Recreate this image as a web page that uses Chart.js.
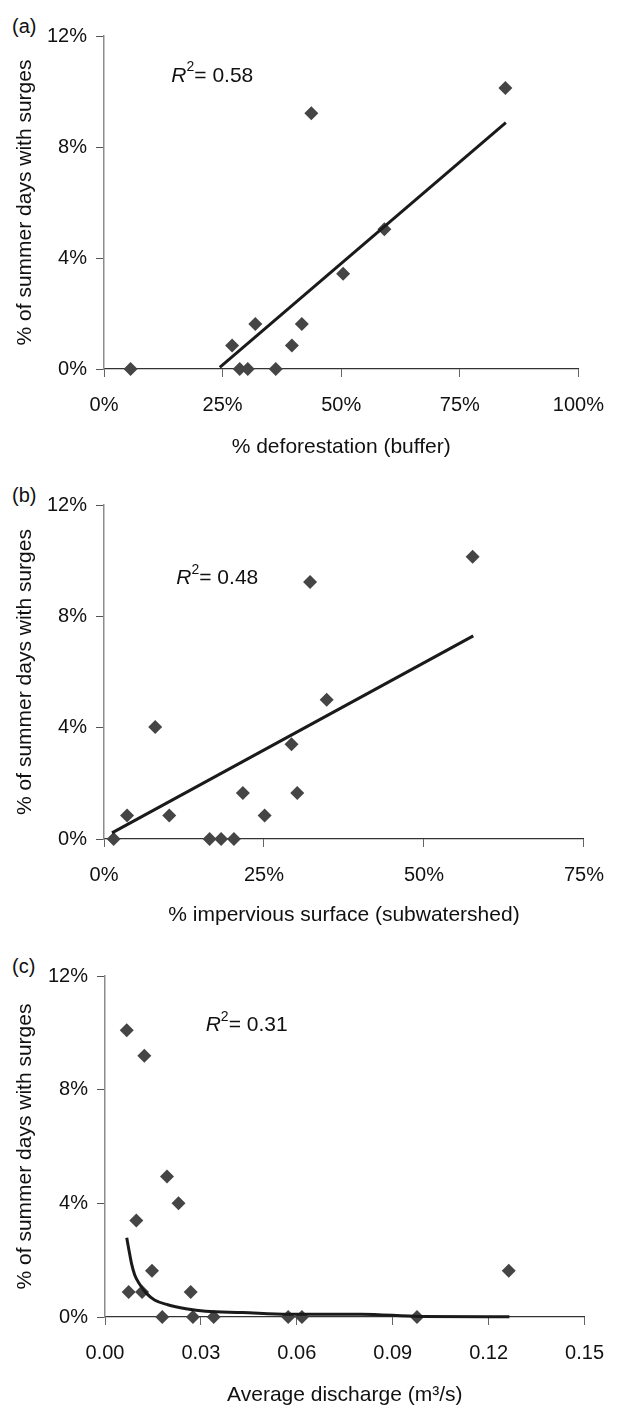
<!DOCTYPE html>
<html>
<head>
<meta charset="utf-8">
<script src="https://cdn.jsdelivr.net/npm/chart.js@4.4.1/dist/chart.umd.min.js"></script>
<style>
    body { margin: 0; background: #fff; }
    #wrap { position: relative; width: 620px; height: 1410px; }
    #wrap canvas { position: absolute; left: 0; display: block; }
    .panel-tag { position: absolute; left: 12px; font: 20px/24px "Liberation Sans", Arial, sans-serif; color: #111; }
</style>
</head>
<body>
<div id="wrap">
    <div class="panel-tag" style="top:14px">(a)</div>
    <div class="panel-tag" style="top:483px">(b)</div>
    <div class="panel-tag" style="top:954px">(c)</div>
    <canvas id="chartA" width="620" height="470" style="top:0"></canvas>
    <canvas id="chartB" width="620" height="470" style="top:470px"></canvas>
    <canvas id="chartC" width="620" height="470" style="top:940px"></canvas>
</div>
<script>
// Shared y axis (% of summer days with surges)
var yTicks = [0, 4, 8, 12];

// (a) deforestation in buffer
var aX = [5.6, 27.0, 28.6, 30.3, 31.9, 36.2, 39.6, 41.7, 43.7, 50.4, 59.1, 84.6];
var aY = [0, 0.85, 0, 0, 1.62, 0, 0.85, 1.62, 9.22, 3.43, 5.04, 10.13];
var aTrendX = [24.4, 84.7];
var aTrendY = [0.06, 8.88];
var aTicks = [0, 25, 50, 75, 100];

// (b) impervious surface in subwatershed
var bX = [1.5, 3.6, 8.0, 10.2, 16.5, 18.3, 20.3, 21.7, 25.1, 29.3, 30.2, 32.2, 34.8, 57.6];
var bY = [0, 0.84, 4.02, 0.84, 0, 0, 0, 1.65, 0.84, 3.40, 1.65, 9.23, 5.0, 10.14];
var bTrendX = [1.25, 57.7];
var bTrendY = [0.22, 7.30];
var bTicks = [0, 25, 50, 75];

// (c) average discharge
var cX = [0.0068, 0.0123, 0.0194, 0.0230, 0.0098, 0.0147, 0.0074, 0.0116, 0.0268, 0.0179, 0.0275, 0.0340, 0.0573, 0.0616, 0.0976, 0.1263];
var cY = [10.09, 9.19, 4.94, 4.0, 3.40, 1.63, 0.88, 0.88, 0.88, 0, 0, 0, 0, 0, 0, 1.63];
var cCurveX = [0.0068, 0.0075, 0.0083, 0.0093, 0.0108, 0.0129, 0.0155, 0.0196, 0.0253, 0.0315, 0.0429, 0.0573, 0.0801, 0.0987, 0.1265];
var cCurveY = [2.79, 2.35, 1.88, 1.48, 1.16, 0.84, 0.60, 0.43, 0.29, 0.20, 0.16, 0.10, 0.10, 0.02, 0.01];
var cTicks = [0, 0.03, 0.06, 0.09, 0.12, 0.15];

var FONT = '"Liberation Sans", Arial, sans-serif';
Chart.defaults.font.family = FONT;
Chart.defaults.color = '#111';

function toPoints(xs, ys) {
    return xs.map(function(x, i) { return { x: x, y: ys[i] }; });
}

// Draws the "R² = ..." note at a data position
var r2Label = {
    id: 'r2Label',
    afterDraw: function(chart, args, opts) {
        var ctx = chart.ctx;
        var x = chart.scales.x.getPixelForValue(opts.x);
        var base = chart.scales.y.getPixelForValue(opts.y) + 7;
        ctx.save();
        ctx.fillStyle = '#111';
        ctx.textBaseline = 'alphabetic';
        ctx.textAlign = 'left';
        ctx.font = 'italic 21px ' + FONT;
        ctx.fillText('R', x, base);
        x += ctx.measureText('R').width;
        ctx.font = '14px ' + FONT;
        ctx.fillText('2', x, base - 10.5);
        x += ctx.measureText('2').width;
        ctx.font = '21px ' + FONT;
        ctx.fillText('= ' + opts.value, x, base);
        ctx.restore();
    }
};

function makePanel(id, cfg) {
    return new Chart(document.getElementById(id), {
        type: 'scatter',
        data: {
            datasets: [
                {
                    data: cfg.line,
                    showLine: true,
                    pointRadius: 0,
                    borderColor: '#1a1a1a',
                    borderWidth: 3,
                    cubicInterpolationMode: 'monotone',
                    clip: false
                },
                {
                    data: cfg.points,
                    pointStyle: 'rectRot',
                    pointRadius: 7,
                    backgroundColor: '#454545',
                    borderWidth: 0,
                    clip: false
                }
            ]
        },
        options: {
            responsive: false,
            animation: false,
            layout: { padding: { top: cfg.top, right: cfg.right, left: 0, bottom: 0 } },
            plugins: {
                legend: { display: false },
                tooltip: { enabled: false },
                r2Label: cfg.r2
            },
            scales: {
                x: {
                    type: 'linear',
                    min: cfg.xTicks[0],
                    max: cfg.xTicks[cfg.xTicks.length - 1],
                    afterBuildTicks: function(s) { s.ticks = cfg.xTicks.map(function(v) { return { value: v }; }); },
                    afterFit: function(s) { s.height = cfg.xHeight; },
                    border: { color: '#333', width: 1.2 },
                    grid: { drawOnChartArea: false, tickLength: 8, color: '#666' },
                    ticks: { padding: 16, font: { size: 20 }, callback: cfg.xFormat },
                    title: { display: true, text: cfg.xTitle, font: { size: 21 }, padding: { top: 0, bottom: cfg.titlePad } }
                },
                y: {
                    type: 'linear',
                    min: 0,
                    max: 12,
                    afterBuildTicks: function(s) { s.ticks = yTicks.map(function(v) { return { value: v }; }); },
                    afterFit: function(s) { s.width = cfg.yWidth; },
                    border: { color: '#8c8c8c', width: 1.5 },
                    grid: { drawOnChartArea: false, tickLength: 8, color: '#555' },
                    ticks: { padding: 9, font: { size: 20 }, callback: function(v) { return v + '%'; } },
                    title: { display: true, text: '% of summer days with surges', font: { size: 21 }, padding: { top: 13, bottom: 0 } }
                }
            }
        },
        plugins: [r2Label]
    });
}

var pct = function(v) { return v + '%'; };

makePanel('chartA', {
    points: toPoints(aX, aY),
    line: toPoints(aTrendX, aTrendY),
    xTicks: aTicks,
    xFormat: pct,
    xTitle: '% deforestation (buffer)',
    r2: { x: 14.2, y: 10.6, value: '0.58' },
    top: 36, right: 27, yWidth: 104, xHeight: 101, titlePad: 10
});

makePanel('chartB', {
    points: toPoints(bX, bY),
    line: toPoints(bTrendX, bTrendY),
    xTicks: bTicks,
    xFormat: pct,
    xTitle: '% impervious surface (subwatershed)',
    r2: { x: 11.3, y: 9.4, value: '0.48' },
    top: 35, right: 18, yWidth: 104, xHeight: 101, titlePad: 12
});

makePanel('chartC', {
    points: toPoints(cX, cY),
    line: toPoints(cCurveX, cCurveY),
    xTicks: cTicks,
    xFormat: function(v) { return v.toFixed(2); },
    xTitle: 'Average discharge (m³/s)',
    r2: { x: 0.0315, y: 10.3, value: '0.31' },
    top: 36, right: 31, yWidth: 105, xHeight: 93, titlePad: 2
});
</script>
</body>
</html>
